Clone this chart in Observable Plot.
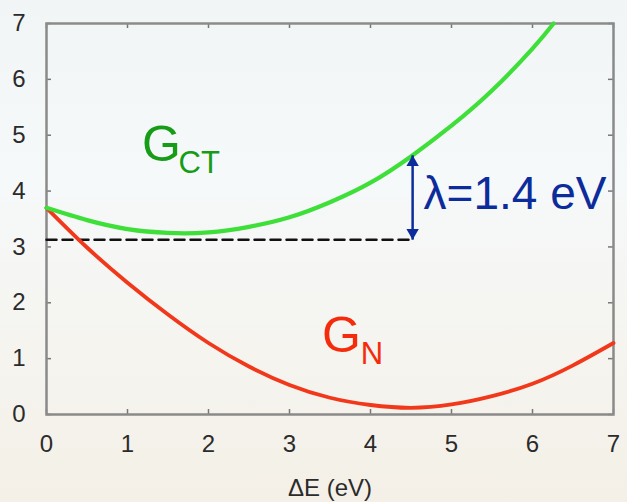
<!DOCTYPE html>
<html>
<head>
<meta charset="utf-8">
<script src="https://cdn.jsdelivr.net/npm/d3@7"></script>
<script src="https://cdn.jsdelivr.net/npm/@observablehq/plot@0.6"></script>
<style>
  html, body { margin: 0; padding: 0; }
  body {
    width: 627px; height: 502px; overflow: hidden;
    background: linear-gradient(to bottom, #f1f5f5 0%, #f6f9fa 35%, #f5f4ef 70%, #f4f0e7 100%);
    font-family: "Liberation Sans", Arial, sans-serif;
  }
</style>
</head>
<body>
<div id="chart"></div>
<script>
// ---- data ----
const xTicks = [0, 1, 2, 3, 4, 5, 6, 7];
const yTicks = [0, 1, 2, 3, 4, 5, 6, 7];

const gctX = [0, 0.5, 1, 1.5, 2, 2.5, 3, 3.5, 4, 4.5, 5, 5.5, 6, 6.26];
const gctY = [3.70, 3.48, 3.32, 3.25, 3.26, 3.36, 3.53, 3.80, 4.15, 4.62, 5.17, 5.80, 6.55, 7.0];

const gnX = [0, 0.5, 1, 1.5, 2, 2.5, 3, 3.5, 4, 4.5, 5, 5.5, 6, 6.5, 7];
const gnY = [3.70, 2.99, 2.36, 1.79, 1.28, 0.86, 0.53, 0.30, 0.17, 0.12, 0.18, 0.33, 0.55, 0.88, 1.28];

// reorganisation energy marker
const lambdaX = 4.52;
const lambdaLow = 3.13;
const lambdaHigh = 4.64;
const lambdaText = "λ=1.4 eV";
const dashedRef = [{x: 0, y: lambdaLow}, {x: lambdaX, y: lambdaLow}];

const xLabel = "ΔE (eV)";

// curve labels (main letter + subscript), anchored in data space
const curveLabels = [
  {main: "G", sub: "CT", x: 1.18, y: 4.54, subX: 1.63, subY: 4.33, color: "#169c16"},
  {main: "G", sub: "N",  x: 3.40, y: 1.11, subX: 3.88, subY: 0.91, color: "#f42c0c"}
];

const gct = gctX.map((x, i) => ({x, y: gctY[i]}));
const gn = gnX.map((x, i) => ({x, y: gnY[i]}));

const W = 627, H = 502;
const mL = 46, mR = 14, mT = 23, mB = 88;
const innerH = H - mT - mB;
const innerW = W - mL - mR;
const tickLen = 5;

const plot = Plot.plot({
  width: W,
  height: H,
  marginLeft: mL,
  marginRight: mR,
  marginTop: mT,
  marginBottom: mB,
  style: {background: "transparent", fontFamily: "'Liberation Sans', Arial, sans-serif", overflow: "visible"},
  x: {domain: [0, 7]},
  y: {domain: [0, 7]},
  marks: [
    // inward ticks on all four sides
    Plot.tickX(xTicks, {x: d => d, insetTop: innerH - tickLen, stroke: "#777", strokeWidth: 1.5}),
    Plot.tickX(xTicks, {x: d => d, insetBottom: innerH - tickLen, stroke: "#777", strokeWidth: 1.5}),
    Plot.tickY(yTicks, {y: d => d, insetRight: innerW - tickLen, stroke: "#777", strokeWidth: 1.5}),
    Plot.tickY(yTicks, {y: d => d, insetLeft: innerW - tickLen, stroke: "#777", strokeWidth: 1.5}),
    Plot.axisX({ticks: xTicks, tickSize: 0, tickPadding: 20, fontSize: 24, fill: "#2b2b2b", label: null, tickFormat: d => String(d)}),
    Plot.axisY({ticks: yTicks, tickSize: 0, tickPadding: 21, fontSize: 24, fill: "#2b2b2b", label: null, tickFormat: d => String(d)}),
    Plot.frame({stroke: "#8a8a8a", strokeWidth: 2.5}),
    // dashed reference
    Plot.line(dashedRef, {x: "x", y: "y", stroke: "#111", strokeWidth: 2.5, strokeDasharray: "10,6"}),
    // curves
    Plot.line(gn, {x: "x", y: "y", curve: "natural", stroke: "#f2381a", strokeWidth: 3.8}),
    Plot.line(gct, {x: "x", y: "y", curve: "natural", stroke: "#3fdf3a", strokeWidth: 4.2}),
    // lambda double arrow
    Plot.link([{x: lambdaX, y1: lambdaLow, y2: lambdaHigh}], {x1: "x", x2: "x", y1: "y1", y2: "y2", stroke: "#0d2c9c", strokeWidth: 2.5}),
    Plot.dot([{x: lambdaX, y: lambdaHigh}], {x: "x", y: "y", symbol: "triangle", r: 4.6, fill: "#0d2c9c", stroke: "none", dy: 7}),
    Plot.dot([{x: lambdaX, y: lambdaLow}], {x: "x", y: "y", symbol: "triangle", r: 4.6, fill: "#0d2c9c", stroke: "none", rotate: 180, dy: -7}),
    Plot.text([lambdaText], {x: lambdaX, y: lambdaLow, text: d => d, textAnchor: "start", lineAnchor: "bottom", dx: 11, dy: -31, fontSize: 46, fill: "#0d2c9c"}),
    // curve labels
    Plot.text(curveLabels, {x: "x", y: "y", text: "main", fill: "color", textAnchor: "start", lineAnchor: "bottom", fontSize: 50}),
    Plot.text(curveLabels, {x: "subX", y: "subY", text: "sub", fill: "color", textAnchor: "start", lineAnchor: "bottom", fontSize: 31}),
    // x axis title
    Plot.text([xLabel], {frameAnchor: "bottom", text: d => d, lineAnchor: "middle", dy: 74, fontSize: 24, fill: "#2b2b2b", letterSpacing: "1.5px"})
  ]
});
document.getElementById("chart").appendChild(plot);
</script>
</body>
</html>
